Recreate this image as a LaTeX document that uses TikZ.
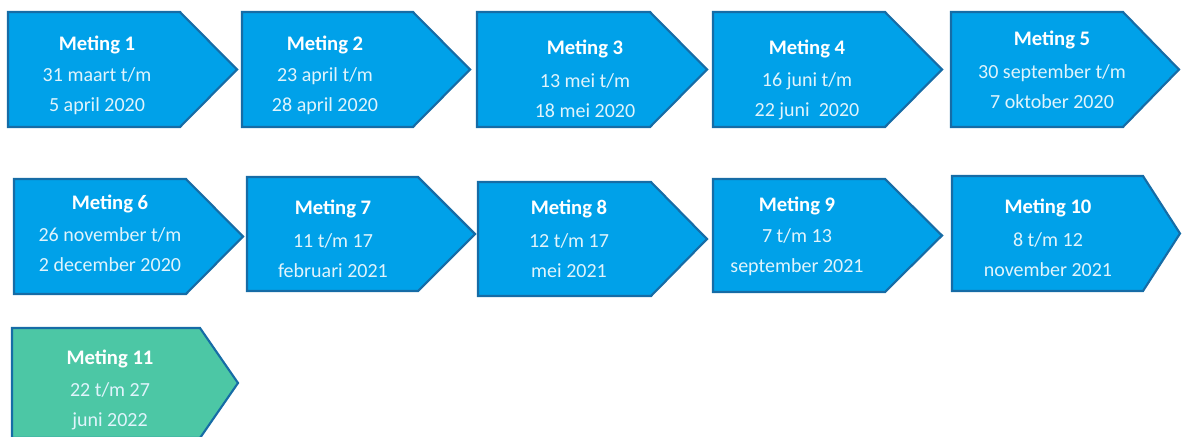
\documentclass[tikz,border=0pt]{standalone}
\usepackage{fontspec}
\setmainfont{Carlito}
\usepackage{tikz}

\definecolor{metingblauw}{RGB}{0,161,233}
\definecolor{metinggroen}{RGB}{76,199,165}
\definecolor{randblauw}{RGB}{22,108,166}

\tikzset{
  meting/.style={draw=randblauw,line width=1.6pt,fill=metingblauw,line join=miter},
  laatste/.style={meting,fill=metinggroen},
  kop/.style={text=white,yshift=-1.5pt,font=\fontsize{15.5}{18}\selectfont\bfseries},
  datum/.style={text=white!88!metingblauw,align=center,yshift=-1.8pt,
    font=\fontsize{15}{22.5}\selectfont}
}

\begin{document}
\begin{tikzpicture}[x=0.75pt,y=-0.75pt]
  \useasboundingbox (0,0) rectangle (1186,436);
  % eerste rij
  \draw[meting] (8,12) -- (180,12) -- (237,69.5) -- (180,127) -- (8,127) -- cycle;
  \node[kop] (kop1) at (97,43) {Meting 1};
  \node[datum] (datum1) at (97,88.5) {31 maart t/m\\5 april 2020};
  \draw[meting] (242,12) -- (413,12) -- (470,69.5) -- (413,127) -- (242,127) -- cycle;
  \node[kop] (kop2) at (325,43) {Meting 2};
  \node[datum] (datum2) at (325,88.5) {23 april t/m\\28 april 2020};
  \draw[meting] (477,12) -- (650,12) -- (707,69.5) -- (650,127) -- (477,127) -- cycle;
  \node[kop] (kop3) at (585,47) {Meting 3};
  \node[datum] (datum3) at (585,93.5) {13 mei t/m\\18 mei 2020};
  \draw[meting] (713,12) -- (885,12) -- (942,69.5) -- (885,127) -- (713,127) -- cycle;
  \node[kop] (kop4) at (807,47) {Meting 4};
  \node[datum] (datum4) at (807,93.5) {16 juni t/m\\22 juni~~2020};
  \draw[meting] (951,12) -- (1123,12) -- (1179,69.5) -- (1123,127) -- (951,127) -- cycle;
  \node[kop] (kop5) at (1052,38) {Meting 5};
  \node[datum] (datum5) at (1052,84.5) {30 september t/m\\7 oktober 2020};
  % tweede rij
  \draw[meting] (14,179) -- (186,179) -- (243,236.5) -- (186,294) -- (14,294) -- cycle;
  \node[kop] (kop6) at (110,202) {Meting 6};
  \node[datum] (datum6) at (110,247.5) {26 november t/m\\2 december 2020};
  \draw[meting] (247,177) -- (418,177) -- (475,234) -- (418,291) -- (247,291) -- cycle;
  \node[kop] (kop7) at (333,207) {Meting 7};
  \node[datum] (datum7) at (333,253.5) {11 t/m 17\\februari 2021};
  \draw[meting] (478,182) -- (651,182) -- (707,239) -- (651,296) -- (478,296) -- cycle;
  \node[kop] (kop8) at (569,207) {Meting 8};
  \node[datum] (datum8) at (569,253) {12 t/m 17\\mei 2021};
  \draw[meting] (713,179) -- (885,179) -- (942,235.5) -- (885,292) -- (713,292) -- cycle;
  \node[kop] (kop9) at (797,204) {Meting 9};
  \node[datum] (datum9) at (797,250) {7 t/m 13\\september 2021};
  \draw[meting] (952,176) -- (1143,176) -- (1180,233.5) -- (1143,291) -- (952,291) -- cycle;
  \node[kop] (kop10) at (1048,206) {Meting 10};
  \node[datum] (datum10) at (1048,252.5) {8 t/m 12\\november 2021};
  % derde rij
  \draw[laatste] (12,328) -- (200,328) -- (238,383) -- (200,438) -- (12,438) -- cycle;
  \node[kop] (kop11) at (110,357) {Meting 11};
  \node[datum] (datum11) at (110,403.5) {22 t/m 27\\juni 2022};
\end{tikzpicture}
\end{document}
